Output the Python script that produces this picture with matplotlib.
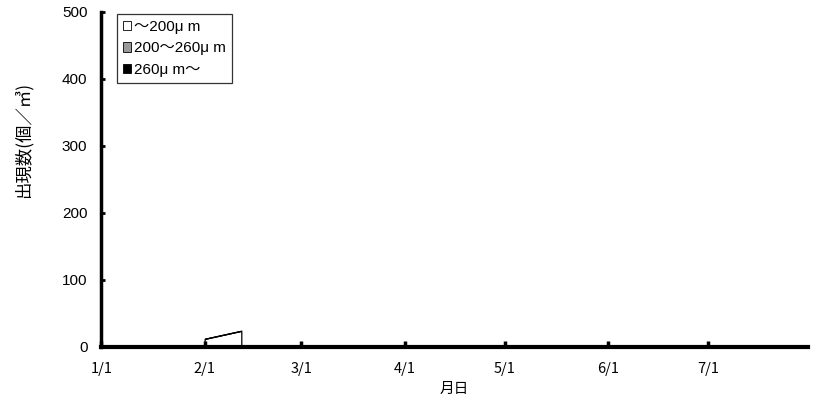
import datetime as dt
import matplotlib
matplotlib.use("Agg")
import matplotlib.pyplot as plt
import matplotlib.dates as mdates
from matplotlib.patches import Patch

plt.rcParams['font.family'] = ['Noto Sans CJK JP', 'DejaVu Sans']

# --- data ---
dates = [dt.date(2000, 2, 1), dt.date(2000, 2, 12)]
small = [12, 24]      # ~200 um
medium = [0, 0]       # 200~260 um
large = [0, 0]        # 260 um~
labels = ['～200μ m', '200～260μ m', '260μ m～']
colors = ['white', '#999999', 'black']

fig = plt.figure(figsize=(8.27, 4.11), dpi=100)
ax = fig.add_axes([0.1225, 0.156, 0.8545, 0.815])

ax.stackplot(dates, small, medium, large, colors=colors,
             edgecolor='black', linewidth=0.9)

ax.set_xlim(dt.date(2000, 1, 1), dt.date(2000, 7, 31))
ax.set_ylim(0, 500)
ax.set_yticks(range(0, 501, 100))
ax.xaxis.set_major_locator(mdates.MonthLocator(bymonth=range(1, 8)))
ax.xaxis.set_major_formatter(mdates.DateFormatter('%-m/%-d'))

for s in ['top', 'right']:
    ax.spines[s].set_visible(False)
ax.spines['left'].set_linewidth(2.5)
ax.spines['bottom'].set_linewidth(3)
ax.tick_params(axis='x', direction='in', length=4, width=2.5, labelsize=10.5, pad=11)
ax.tick_params(axis='y', direction='in', length=3, width=2, labelsize=11, pad=10)
for t in ax.get_yticklabels():
    t.set_fontfamily('Liberation Sans')

ax.set_xlabel('月日', fontsize=10.5)
ax.xaxis.set_label_coords(0.5, -0.105)
ax.set_ylabel('出現数(個／㎥)', fontsize=12.5)
ax.yaxis.set_label_coords(-0.098, 0.618)

handles = [Patch(facecolor=c, edgecolor='black', linewidth=0.6) for c in colors]
leg = ax.legend(handles, labels, loc='upper left', bbox_to_anchor=(0.022, 0.995),
                frameon=True, fancybox=False, edgecolor='black',
                prop={'family': ['Liberation Sans', 'Noto Sans CJK JP'], 'size': 11},
                handlelength=0.55, handleheight=0.55, handletextpad=0.2,
                labelspacing=0.5, borderpad=0.4, borderaxespad=0.0)
leg.get_frame().set_linewidth(0.9)

fig.savefig('out.png', dpi=100)
